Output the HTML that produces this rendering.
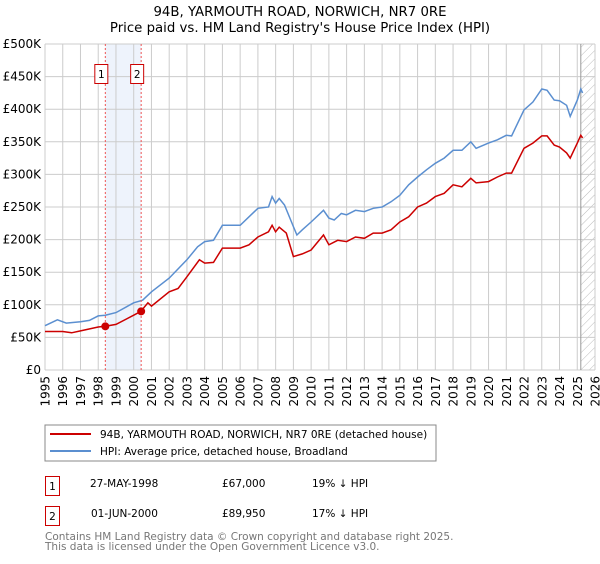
<!DOCTYPE html>
<html><head><meta charset="utf-8"><style>
body{margin:0;background:#fff;font-family:"DejaVu Sans","Liberation Sans",sans-serif}
svg text{font-family:"DejaVu Sans","Liberation Sans",sans-serif}
</style></head><body>
<svg width="600" height="560" viewBox="0 0 600 560">
<defs><pattern id="hatch" width="6" height="6" patternUnits="userSpaceOnUse" patternTransform="rotate(45)"><line x1="0" y1="0" x2="0" y2="6" stroke="#bbb" stroke-width="1"/></pattern></defs>
<text x="300" y="16" text-anchor="middle" font-size="13.3">94B, YARMOUTH ROAD, NORWICH, NR7 0RE</text>
<text x="300" y="32" text-anchor="middle" font-size="13.3">Price paid vs. HM Land Registry's House Price Index (HPI)</text>
<g id="grid"></g>
<g id="series"></g>
<g id="markers"></g>
<g>
<rect x="45" y="425" width="391" height="36" fill="#fff" stroke="#888"/>
<line x1="50" y1="434" x2="91" y2="434" stroke="#cc0000" stroke-width="2"/>
<text x="100" y="438" font-size="10.5">94B, YARMOUTH ROAD, NORWICH, NR7 0RE (detached house)</text>
<line x1="50" y1="451" x2="91" y2="451" stroke="#5b8fd0" stroke-width="2"/>
<text x="100" y="455" font-size="10.5">HPI: Average price, detached house, Broadland</text>
</g>
<g font-size="10.5">
<rect x="45.5" y="476.5" width="14" height="19" fill="none" stroke="#cc0000"/>
<text x="52.5" y="490" text-anchor="middle">1</text>
<text x="90" y="487">27-MAY-1998</text>
<text x="222" y="487">£67,000</text>
<text x="312" y="487">19% ↓ HPI</text>
<rect x="45.5" y="506.5" width="14" height="19" fill="none" stroke="#cc0000"/>
<text x="52.5" y="520" text-anchor="middle">2</text>
<text x="91" y="517">01-JUN-2000</text>
<text x="222" y="517">£89,950</text>
<text x="312" y="517">17% ↓ HPI</text>
</g>
<text x="45" y="540" font-size="10.5" fill="#777">Contains HM Land Registry data © Crown copyright and database right 2025.</text>
<text x="45" y="550" font-size="10.5" fill="#777">This data is licensed under the Open Government Licence v3.0.</text>
</svg>
<script>
const hpiDates=[1995,1995.7,1996.2,1997,1997.5,1998,1998.4,1999,2000,2000.5,2001,2002,2003,2003.6,2004,2004.5,2005,2006,2007,2007.6,2007.8,2008,2008.2,2008.5,2009,2009.2,2009.5,2010,2010.7,2011,2011.3,2011.7,2012,2012.5,2013,2013.5,2014,2014.5,2015,2015.5,2016,2016.5,2017,2017.5,2018,2018.5,2019,2019.3,2020,2020.5,2021,2021.3,2022,2022.5,2023,2023.3,2023.7,2024,2024.4,2024.6,2025,2025.2,2025.3];
const hpiValues=[68000,77000,72000,74000,76000,83000,84000,88000,103000,107000,120000,141000,169000,189000,197000,199000,222000,222000,248000,250000,266000,256000,263000,253000,220000,207000,215000,227000,245000,233000,230000,240000,238000,245000,243000,248000,250000,258000,268000,284000,296000,307000,317000,325000,337000,337000,350000,340000,348000,353000,360000,359000,399000,411000,431000,429000,414000,413000,406000,389000,414000,431000,425000];
const priceDates=[1995,1996,1996.5,1997,1998,1998.4,1999,2000,2000.4,2000.8,2001,2002,2002.5,2003,2003.7,2004,2004.5,2005,2006,2006.5,2007,2007.6,2007.8,2008,2008.2,2008.6,2009,2009.5,2010,2010.7,2011,2011.5,2012,2012.5,2013,2013.5,2014,2014.5,2015,2015.5,2016,2016.5,2017,2017.5,2018,2018.5,2019,2019.3,2020,2020.5,2021,2021.3,2022,2022.5,2023,2023.3,2023.7,2024,2024.4,2024.6,2025,2025.2,2025.3];
const priceValues=[59000,59000,57000,60000,66000,67000,70000,84000,89950,103000,98000,120000,125000,143000,169000,164000,165000,187000,187000,192000,204000,212000,222000,212000,219000,210000,174000,178000,184000,207000,192000,199000,197000,204000,202000,210000,210000,215000,227000,235000,250000,256000,266000,271000,284000,281000,294000,287000,289000,296000,302000,302000,340000,348000,359000,359000,345000,342000,333000,325000,348000,360000,356000];
const saleDates=[1998.4,2000.42];
const saleValues=[67000,89950];
const saleLabels=["1","2"];
const yTicks=[0,50000,100000,150000,200000,250000,300000,350000,400000,450000,500000];
const yTickLabels=["£0","£50K","£100K","£150K","£200K","£250K","£300K","£350K","£400K","£450K","£500K"];
const xYears=[1995,1996,1997,1998,1999,2000,2001,2002,2003,2004,2005,2006,2007,2008,2009,2010,2011,2012,2013,2014,2015,2016,2017,2018,2019,2020,2021,2022,2023,2024,2025,2026];
const dataEnd=2025.2;
const X0=45,X1=595,Y0=370,Y1=44;
const xS=t=>X0+(t-1995)/(2026-1995)*(X1-X0);
const yS=v=>Y0-v/500000*(Y0-Y1);
const NS="http://www.w3.org/2000/svg";
function mk(tag,attrs,parent){const e=document.createElementNS(NS,tag);for(const k in attrs)e.setAttribute(k,attrs[k]);parent.appendChild(e);return e;}
const grid=document.getElementById('grid');
let sh=mk('rect',{x:xS(saleDates[0]),y:Y1,width:xS(saleDates[1])-xS(saleDates[0]),height:Y0-Y1,fill:'#eef3fc'},grid);


let ht=mk('rect',{x:xS(dataEnd),y:Y1,width:X1-xS(dataEnd),height:Y0-Y1,fill:'url(#hatch)'},grid);


yTicks.forEach((v,i)=>{
 let l=mk('line',{x1:X0,x2:X1,y1:yS(v),y2:yS(v),stroke:'#ccc','stroke-width':1},grid);
 
 
 let t=mk('text',{x:X0-4,y:yS(v)+4,'text-anchor':'end','font-size':'12'},grid);
 t.textContent=yTickLabels[i];
 
 
});
xYears.forEach(yr=>{
 let l=mk('line',{x1:xS(yr),x2:xS(yr),y1:Y1,y2:Y0,stroke:'#ccc','stroke-width':1},grid);
 
 
 let t=mk('text',{x:0,y:0,'text-anchor':'end','font-size':'12',transform:`translate(${xS(yr)+4.5},376) rotate(-90)`},grid);
 t.textContent=String(yr);
 
 
});
let el=mk('line',{x1:xS(dataEnd),x2:xS(dataEnd),y1:Y1,y2:Y0,stroke:'#999','stroke-width':1},grid);


const ser=document.getElementById('series');
function path(ds,vs){return ds.map((d,i)=>(i?'L':'M')+xS(d).toFixed(1)+','+yS(vs[i]).toFixed(1)).join('');}
let hp=mk('path',{d:path(hpiDates,hpiValues),fill:'none',stroke:'#5b8fd0','stroke-width':1.5},ser);


let pp=mk('path',{d:path(priceDates,priceValues),fill:'none',stroke:'#cc0000','stroke-width':1.5},ser);


const mg=document.getElementById('markers');
saleDates.forEach((d,i)=>{
 let l=mk('line',{x1:xS(d),x2:xS(d),y1:Y1,y2:Y0,stroke:'#e55','stroke-width':1,'stroke-dasharray':'2,2'},mg);
 
 
 let c=mk('circle',{cx:xS(d),cy:yS(saleValues[i]),r:4,fill:'#cc0000'},mg);
 
 
 let r=mk('rect',{x:xS(d)-10.5,y:64.5,width:13,height:19,fill:'#fff',stroke:'#cc0000'},mg);
 
 
 let t=mk('text',{x:xS(d)-4,y:78,'text-anchor':'middle','font-size':'10.5'},mg);
 t.textContent=saleLabels[i];
 
 
});
</script>
</body></html>
